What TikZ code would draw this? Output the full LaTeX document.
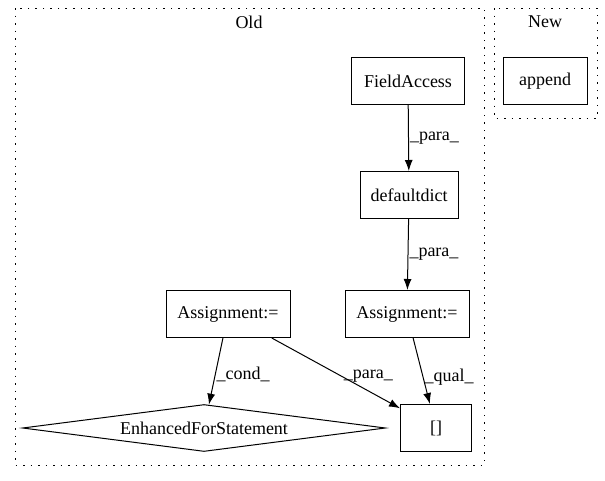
\documentclass[tikz,border=0pt]{standalone}
\usepackage{fontspec}
\setmainfont{Liberation Serif}
\usetikzlibrary{shapes.geometric,arrows.meta}

\tikzset{
  box/.style={draw,line width=1pt,rectangle,inner sep=0pt,minimum height=47pt,font=\fontsize{18}{20}\selectfont},
  cond/.style={draw,line width=1pt,diamond,inner sep=0pt,aspect=7.7,minimum width=363pt,minimum height=47pt,font=\fontsize{18}{20}\selectfont},
  cluster/.style={line width=1pt,dash pattern=on 1.5pt off 6pt},
  edge/.style={line width=1pt,-{Latex[length=11pt,width=8pt]}},
  lbl/.style={font=\fontsize{18}{20}\selectfont,inner sep=1pt}
}

\begin{document}
\begin{tikzpicture}[x=1pt,y=-1pt]
	\useasboundingbox (0,0) rectangle (605,480);

	% clusters
	\draw[cluster] (15,8) rectangle (484,465);
	\draw[cluster] (494,8) rectangle (597,118);
	\node[lbl] (oldlbl) at (249,22) {Old};
	\node[lbl] (newlbl) at (545,22) {New};

	% nodes
	\node[box,minimum width=84pt] (append) at (545,81) {append};
	\node[box,minimum width=113pt] (fieldaccess) at (408,81) {FieldAccess};
	\node[box,minimum width=98pt] (defaultdict) at (409,195) {defaultdict};
	\node[box,minimum width=124pt] (assignR) at (407,314) {Assignment:=};
	\node[box,minimum width=124pt] (assignL) at (228,314) {Assignment:=};
	\node[box,minimum width=71pt] (index) at (436,428) {[]};
	\node[cond] (forstmt) at (204,428) {EnhancedForStatement};

	% edges
	\draw[edge] (fieldaccess) -- (defaultdict) node[lbl,midway,right] {\_para\_};
	\draw[edge] (defaultdict) -- (assignR) node[lbl,midway,right] {\_para\_};
	\draw[edge] (assignR) -- (index) node[lbl,pos=0.6,right] {\_qual\_};
	\draw[edge] (assignL) -- (forstmt) node[lbl,pos=0.55,right] {\_cond\_};
	\draw[edge] (assignL) -- (index) node[lbl,pos=0.55,right] {\_para\_};
\end{tikzpicture}
\end{document}
